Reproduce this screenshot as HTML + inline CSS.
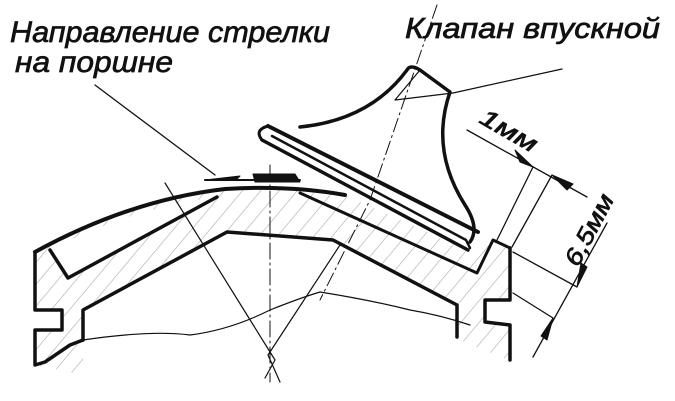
<!DOCTYPE html>
<html><head><meta charset="utf-8"><style>
html,body{margin:0;padding:0;background:#fff;}
svg{display:block;}
text{font-family:"Liberation Sans",sans-serif;font-style:italic;fill:#111;stroke:#111;stroke-width:0.7;}
</style></head><body>
<svg width="675" height="401" viewBox="0 0 675 401" xmlns="http://www.w3.org/2000/svg">
<defs>
<pattern id="h" patternUnits="userSpaceOnUse" width="14" height="14" patternTransform="rotate(40)">
<line x1="0" y1="0" x2="0" y2="14" stroke="#aaa" stroke-width="1.2"/>
</pattern>
</defs>
<g fill="none" stroke="#111" stroke-linecap="round" stroke-linejoin="round">
<path d="M35,252 Q130,200 225,189 L333,190 L468,250 L493,240 L510,248 L510,300 L485,300 L485,322 L510,325 L510,360 L470,345 L457,337 L457,305 L333,240 L227,232 L83,310 L83,375 L35,365 L35,330 L62,330 L62,310 L35,310 Z" fill="url(#h)" stroke="none"/>
<path d="M50,250 Q130,208 217,197 L68,278 Z" fill="#fff" stroke="none"/>
<path d="M35,252 Q130,200 225,189 Q290,185 345,195" stroke-width="4"/>
<path d="M35,252 L35,310 L62,310 L62,330 L35,330 L35,365 L45,362 L70,345 L83,340" stroke-width="3.5"/>
<path d="M50,250 L68,278 L217,197" stroke-width="3.5"/>
<path d="M83,340 L83,310 L227,232 L333,240 L457,305 L457,337" stroke-width="3.5"/>
<path d="M300,193 L477,273 L493,240 L510,248" stroke-width="3"/>
<path d="M510,248 L510,300 L485,300 L485,322 L510,325 L510,360" stroke-width="3.5"/>
<!-- valve -->
<path d="M268,126 L478,232" stroke-width="4"/>
<path d="M262,140 L468,250" stroke-width="3.5"/>
<path d="M262,140 Q254,130 268,126" stroke-width="3"/>
<path d="M272,136 L466,240 L470,248" stroke-width="2.5"/>
<path d="M300,127 Q370,120 407,70 Q410,64 420,70 L450,92 Q430,150 465,205 Q480,228 470,242" stroke-width="3.5"/>
<path d="M420,70 L395,100 L453,93 L562,69" stroke-width="1.2"/>
<path d="M437,5 L370,200 L320,300" stroke-width="1" stroke-dasharray="14,4,2,4"/>
<path d="M270,165 L270,382" stroke-width="1" stroke-dasharray="16,4,2,4"/>
<path d="M165,183 L275,360 L265,378" stroke-width="1.2"/>
<path d="M340,245 L268,355 L280,382" stroke-width="1.2"/>
<path d="M83,340 Q150,330 190,335 Q230,330 270,310 Q300,298 320,292 Q370,300 410,310 Q440,315 470,325" stroke-width="1.2"/>
<path d="M95,85 L215,175" stroke-width="1.3"/>
<path d="M205,180 L300,180" stroke-width="2"/>
<path d="M205,180 L240,176 L236,180 Z" fill="#111" stroke-width="1"/>
<path d="M253,174 L295,174 L300,182 L255,182 Z" fill="#111" stroke-width="1"/>
<path d="M533,167 L497,240 M552,175 L512,247" stroke-width="1.3"/>
<path d="M467,130 L587,197" stroke-width="1.3"/>
<path d="M533,167 L515,150 L520,162 Z" fill="#111"/>
<path d="M552,175 L573,184 L567,190 Z" fill="#111"/>
<path d="M513,252 L577,287 M513,293 L553,318" stroke-width="1.3"/>
<path d="M607,223 L533,357" stroke-width="1.3"/>
<path d="M577,287 L581,263 L587,267 Z" fill="#111"/>
<path d="M553,318 L547,340 L541,336 Z" fill="#111"/>
</g>
<text x="10" y="42" font-size="30" textLength="320" lengthAdjust="spacingAndGlyphs">Направление стрелки</text>
<text x="15" y="72" font-size="30" textLength="158" lengthAdjust="spacingAndGlyphs">на поршне</text>
<text x="405" y="38" font-size="29" textLength="255" lengthAdjust="spacingAndGlyphs">Клапан впускной</text>
<text transform="translate(478,122) rotate(30)" font-size="24" textLength="62" lengthAdjust="spacingAndGlyphs">1мм</text>
<text transform="translate(578,268) rotate(-62)" font-size="24" textLength="78" lengthAdjust="spacingAndGlyphs">6,5мм</text>
</svg>
</body></html>
